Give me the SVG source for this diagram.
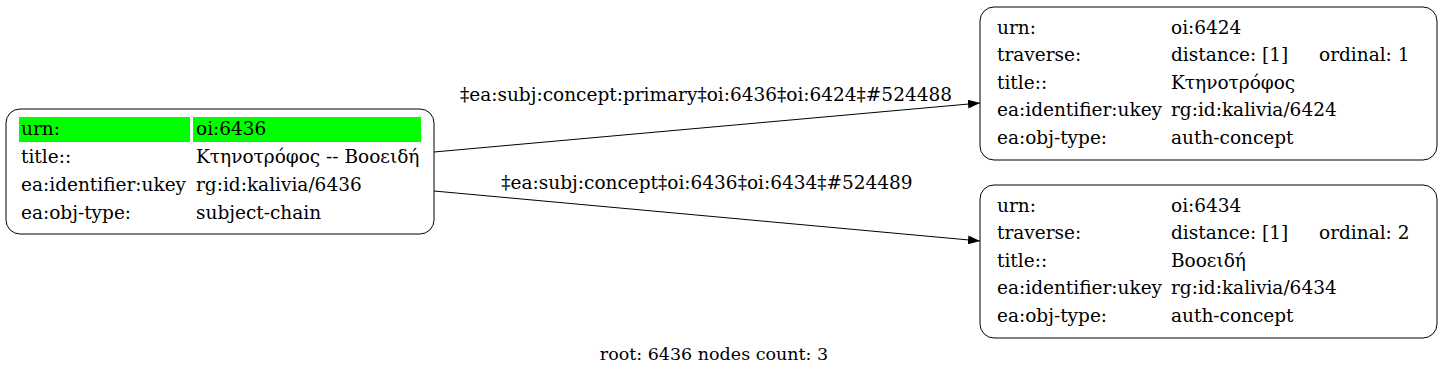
<svg xmlns="http://www.w3.org/2000/svg" width="1444" height="375" viewBox="0 0 1444 375">
<defs>
<style>
text{font-family:"DejaVu Serif",serif;font-size:18.5px;fill:#000}
.foot{font-size:17.5px}
.box{fill:#fff;stroke:#000;stroke-width:1}
.edge{stroke:#000;stroke-width:1;fill:none}
.mid{text-anchor:middle}
</style>
<marker id="arr" viewBox="0 0 12 9" refX="12" refY="4.5" markerWidth="12" markerHeight="9" markerUnits="userSpaceOnUse" orient="auto">
<path d="M0,0L12,4.5L0,9z" fill="#000"/>
</marker>
</defs>
<rect width="1444" height="375" fill="#fff"/>
<g id="edges">
<line class="edge" x1="434" y1="152" x2="980" y2="103" marker-end="url(#arr)"/>
<text class="mid" x="706" y="101">‡ea:subj:concept:primary‡oi:6436‡oi:6424‡#524488</text>
<line class="edge" x1="434" y1="191" x2="980" y2="241" marker-end="url(#arr)"/>
<text class="mid" x="707" y="189">‡ea:subj:concept‡oi:6436‡oi:6434‡#524489</text>
</g>
<g id="node6436">
<rect class="box" x="6" y="109" width="428" height="125" rx="14"/>
<rect x="19" y="117" width="171" height="25" fill="#00ff00"/>
<rect x="193" y="117" width="228" height="25" fill="#00ff00"/>
<text x="21" y="135">urn:</text><text x="196" y="135">oi:6436</text>
<text x="21" y="163">title::</text><text x="196" y="163">Κτηνοτρόφος -- Βοοειδή</text>
<text x="21" y="191">ea:identifier:ukey</text><text x="196" y="191">rg:id:kalivia/6436</text>
<text x="21" y="219">ea:obj-type:</text><text x="196" y="219">subject-chain</text>
</g>
<g id="node6424">
<rect class="box" x="980" y="7" width="457" height="153" rx="14"/>
<text x="997" y="34">urn:</text><text x="1171" y="34">oi:6424</text>
<text x="997" y="61">traverse:</text><text x="1171" y="61">distance: [1]</text><text x="1319" y="61">ordinal: 1</text>
<text x="997" y="89">title::</text><text x="1171" y="89">Κτηνοτρόφος</text>
<text x="997" y="116">ea:identifier:ukey</text><text x="1171" y="116">rg:id:kalivia/6424</text>
<text x="997" y="144">ea:obj-type:</text><text x="1171" y="144">auth-concept</text>
</g>
<g id="node6434">
<rect class="box" x="980" y="185" width="457" height="153" rx="14"/>
<text x="997" y="212">urn:</text><text x="1171" y="212">oi:6434</text>
<text x="997" y="239">traverse:</text><text x="1171" y="239">distance: [1]</text><text x="1319" y="239">ordinal: 2</text>
<text x="997" y="267">title::</text><text x="1171" y="267">Βοοειδή</text>
<text x="997" y="294">ea:identifier:ukey</text><text x="1171" y="294">rg:id:kalivia/6434</text>
<text x="997" y="322">ea:obj-type:</text><text x="1171" y="322">auth-concept</text>
</g>
<text class="mid foot" x="714" y="360">root: 6436 nodes count: 3</text>
</svg>
